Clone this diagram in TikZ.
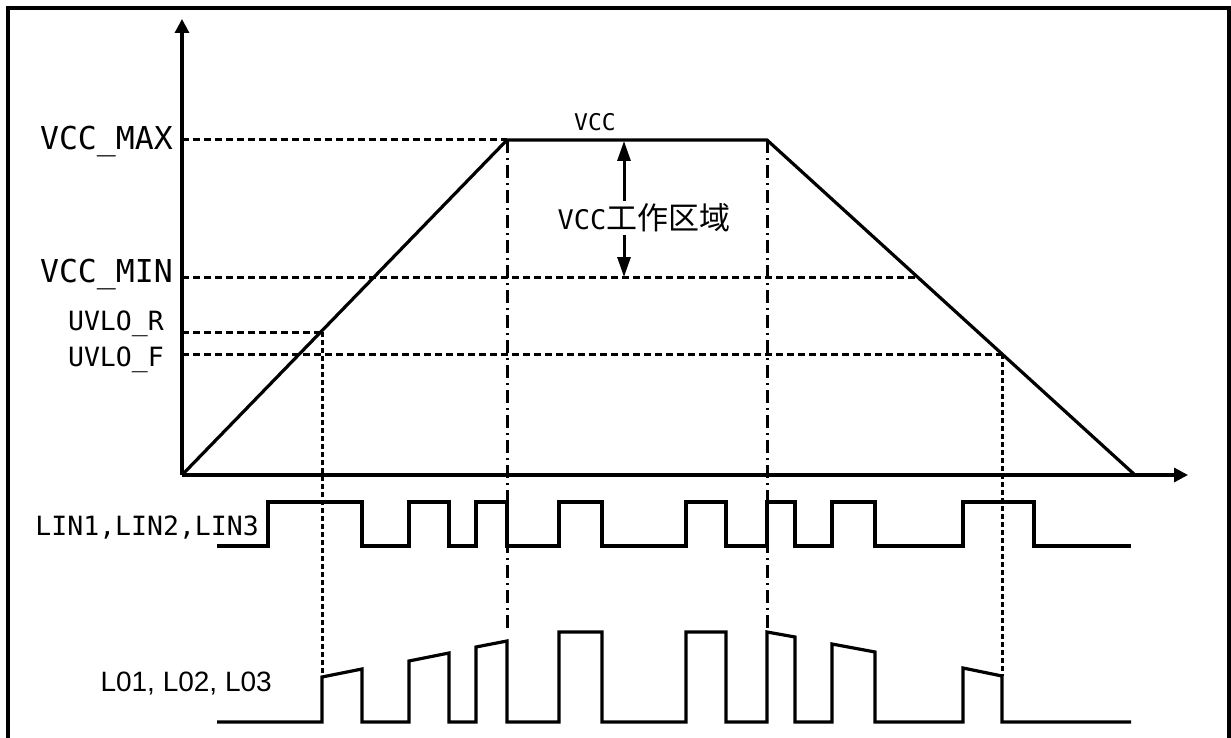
\documentclass[tikz,border=0pt]{standalone}
\usepackage{fontspec}
\newfontfamily\mono{DejaVu Sans Mono}
\newfontfamily\cjk{Noto Sans CJK SC}
\newfontfamily\lofont{Liberation Sans}
\usetikzlibrary{arrows.meta}
\tikzset{
  wave/.style={line width=3.2pt, line join=miter},
  axisline/.style={line width=3.2pt, -{Triangle[length=14pt,width=14pt]}},
  guide/.style={line width=3pt, dash pattern=on 7pt off 4pt},
  dotline/.style={line width=3pt, dash pattern=on 5pt off 3pt},
  dashdot/.style={line width=3pt, dash pattern=on 13pt off 5pt on 2pt off 5pt},
  lbl/.style={font=\mono\fontsize{31.5}{32}\selectfont, inner sep=0pt, anchor=east},
  slbl/.style={font=\mono\fontsize{26.5}{27}\selectfont, inner sep=0pt, anchor=east},
}
\begin{document}
\begin{tikzpicture}[x=1pt,y=-1pt]
\useasboundingbox (0,0) rectangle (1231,738);
\fill[white] (0,0) rectangle (1231,738);
\begin{scope}
\clip (0,0) rectangle (1231,738);
\draw[line width=3.5pt] (8,760) -- (8,8) -- (1229,8) -- (1229,760);
\end{scope}

% key points
\coordinate (O) at (182,475);
\coordinate (ytop) at (182,19);
\coordinate (xend) at (1188,475);
\coordinate (pL) at (507,140);
\coordinate (pR) at (767,140);
\coordinate (rampend) at (1135,475);
\coordinate (minL) at (182,277);
\coordinate (minR) at (917,277);
\coordinate (maxL) at (182,140);
\coordinate (urL) at (182,332);
\coordinate (urR) at (322,332);
\coordinate (ufL) at (182,354);
\coordinate (ufR) at (1002,354);

% guide lines
\draw[guide] (maxL) -- (pL);
\draw[guide] (minL) -- (minR);
\draw[guide] (urL) -- (urR);
\draw[guide] (ufL) -- (ufR);
\draw[dotline] (urR) -- (322,677);
\draw[dotline] (ufR) -- (1002,676);
\draw[dashdot] (pL) -- (507,632);
\draw[dashdot] (pR) -- (767,632);

% axes
\draw[axisline] (O) -- (ytop);
\draw[axisline] (O) -- (xend);

% VCC ramp
\draw[wave] (O) -- (pL) -- (pR) -- (rampend);

% labels
\node[lbl] (lmax) at (173,142) {VCC\_MAX};
\node[lbl] (lmin) at (173,275) {VCC\_MIN};
\node[slbl] (lur) at (164,324) {UVLO\_R};
\node[slbl] (luf) at (164,360) {UVLO\_F};
\node[font=\mono\fontsize{23}{24}\selectfont, inner sep=0pt] (vcc) at (595,122) {VCC};

% working range arrow
\coordinate (wa) at (624,141);
\coordinate (wb) at (624,277);
\draw[line width=3pt, {Triangle[length=20pt,width=13pt]}-{Triangle[length=20pt,width=13pt]}] (wa) -- (wb);
\node[fill=white, inner xsep=1pt, inner ysep=3pt] (wr) at (644,218) {\mono\fontsize{27}{28}\selectfont VCC\cjk\fontsize{31}{32}\selectfont 工作区域};

% LIN waveform
\node[font=\mono\fontsize{26.5}{27}\selectfont, inner sep=0pt, anchor=east] (llin) at (259,528) {LIN1,LIN2,LIN3};
\draw[wave] (217,546) -- (268,546) -- (268,502) -- (362,502) -- (362,546) -- (409,546) -- (409,502) -- (449,502) -- (449,546) -- (476,546) -- (476,502) -- (507,502) -- (507,546) -- (559,546) -- (559,502) -- (602,502) -- (602,546) -- (686,546) -- (686,502) -- (726,502) -- (726,546) -- (767,546) -- (767,502) -- (795,502) -- (795,546) -- (832,546) -- (832,502) -- (875,502) -- (875,546) -- (963,546) -- (963,502) -- (1034,502) -- (1034,546) -- (1131,546);

% LO waveform
\node[font=\lofont\fontsize{28}{29}\selectfont, inner sep=0pt, anchor=east] (llo) at (272,684) {L01, L02, L03};
\draw[wave] (217,722) -- (322,722) -- (322,677) -- (362,669) -- (362,722) -- (409,722) -- (409,661) -- (449,653) -- (449,722) -- (476,722) -- (476,647) -- (507,641) -- (507,722) -- (559,722) -- (559,632) -- (602,632) -- (602,722) -- (686,722) -- (686,632) -- (726,632) -- (726,722) -- (767,722) -- (767,632) -- (795,637) -- (795,722) -- (832,722) -- (832,644) -- (875,652) -- (875,722) -- (963,722) -- (963,668) -- (1002,676) -- (1002,722) -- (1131,722);
\end{tikzpicture}
\end{document}
